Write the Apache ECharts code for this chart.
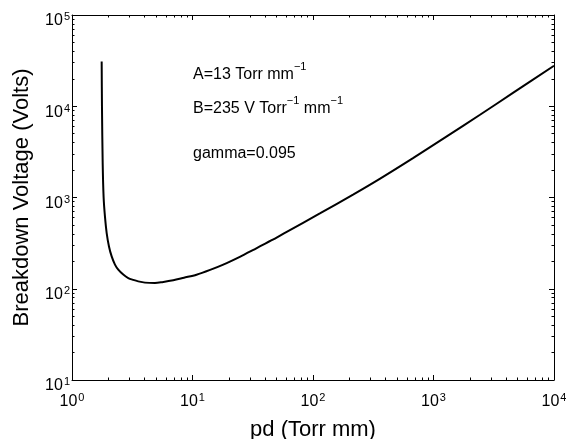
<!DOCTYPE html>
<html>
<head>
<meta charset="utf-8">
<script src="https://cdn.jsdelivr.net/npm/echarts@6/dist/echarts.min.js"></script>
<style>
  html, body { margin: 0; padding: 0; background: #fff; }
  #chart { width: 566px; height: 439px; }
</style>
</head>
<body>
<div id="chart"></div>
<script>
// Paschen curve
const pd = [1.763, 1.773, 1.797, 1.83, 1.877, 1.94, 2.027, 2.134, 2.273, 2.421, 2.663, 2.93, 3.224, 3.546, 4.03, 4.88, 5.6, 6.92, 8.5, 10.8, 14, 18, 24.7, 32, 45, 60, 114, 215, 358, 676, 1279, 2415, 4565, 10000];
const voltage = [31000, 10000, 2400, 1000, 620, 408, 291, 226, 184, 162, 143, 131, 125, 120.5, 116.7, 115.6, 118, 123.6, 132, 142.6, 161, 184, 224, 267, 338, 418, 668, 1075, 1600, 2700, 4640, 8020, 14000, 27800];

const xDecades = [1, 10, 100, 1000, 10000];
const yDecades = [10, 100, 1000, 10000, 100000];

const notes = [
  '{b|A=13 Torr mm}{s|\u22121}',
  '{b|B=235 V Torr}{s|\u22121}{b| mm}{s|\u22121}',
  '{b|gamma=0.095}'
];
const noteTop = [61, 95, 146];

const FONT = 'Liberation Sans';

function minors(decs) {
  let arr = [];
  for (let i = 0; i < decs.length - 1; i++) {
    for (let k = 2; k <= 9; k++) arr.push(decs[i] * k);
  }
  return arr;
}

const labelRich = {
  b: { fontSize: 16, fontFamily: FONT, color: '#000', lineHeight: 32, padding: [12, 0, 0, 0] },
  s: { fontSize: 11, fontFamily: FONT, color: '#000', lineHeight: 32, padding: [4.5, 0, 0, 1] }
};

function powLabel(v) {
  return '{b|10}{s|' + Math.round(Math.log10(v)) + '}';
}

function axis(kind, pos, major, ticks, len, extra) {
  let a = {
    type: 'log',
    logBase: 10,
    position: pos,
    min: kind === 'x' ? 1 : 10,
    max: kind === 'x' ? 10000 : 100000,
    splitLine: { show: false },
    axisLine: { show: major, onZero: false, lineStyle: { color: '#000', width: 1 } },
    axisTick: { show: true, inside: true, length: len, customValues: ticks, lineStyle: { color: '#000', width: 1 } },
    axisLabel: { show: false },
    axisPointer: { show: false }
  };
  return Object.assign(a, extra || {});
}

const xMinor = minors(xDecades);
const yMinor = minors(yDecades);

const option = {
  animation: false,
  backgroundColor: '#fff',
  grid: { left: 72, right: 12, top: 15, bottom: 59, containLabel: false, outerBoundsMode: 'none' },
  xAxis: [
    axis('x', 'bottom', true, xDecades, 5, {
      name: 'pd (Torr mm)',
      nameLocation: 'middle',
      nameGap: 39,
      nameTextStyle: { fontSize: 22, fontFamily: FONT, color: '#000' },
      axisLabel: { show: true, customValues: xDecades, margin: 0, formatter: powLabel, rich: labelRich }
    }),
    axis('x', 'bottom', false, xMinor, 2.5),
    axis('x', 'top', true, xDecades, 5),
    axis('x', 'top', false, xMinor, 2.5)
  ],
  yAxis: [
    axis('y', 'left', true, yDecades, 5, {
      name: 'Breakdown Voltage (Volts)',
      nameLocation: 'middle',
      nameGap: 39,
      nameTextStyle: { fontSize: 22, fontFamily: FONT, color: '#000' },
      axisLabel: { show: true, customValues: yDecades, margin: 2, formatter: powLabel, rich: labelRich }
    }),
    axis('y', 'left', false, yMinor, 2.5),
    axis('y', 'right', true, yDecades, 5),
    axis('y', 'right', false, yMinor, 2.5)
  ],
  graphic: notes.map(function (t, i) {
    return {
      type: 'text',
      left: 193,
      top: noteTop[i],
      style: {
        text: t,
        rich: {
          b: { fontSize: 16, fontFamily: FONT, fill: '#000', lineHeight: 22, verticalAlign: 'bottom' },
          s: { fontSize: 11, fontFamily: FONT, fill: '#000', verticalAlign: 'top' }
        }
      }
    };
  }),
  series: [{
    type: 'line',
    xAxisIndex: 0,
    yAxisIndex: 0,
    data: pd.map(function (p, i) { return [p, voltage[i]]; }),
    showSymbol: false,
    smooth: 0.3,
    lineStyle: { color: '#000', width: 2 },
    silent: true
  }]
};

const chart = echarts.init(document.getElementById('chart'));
chart.setOption(option);
</script>
</body>
</html>
